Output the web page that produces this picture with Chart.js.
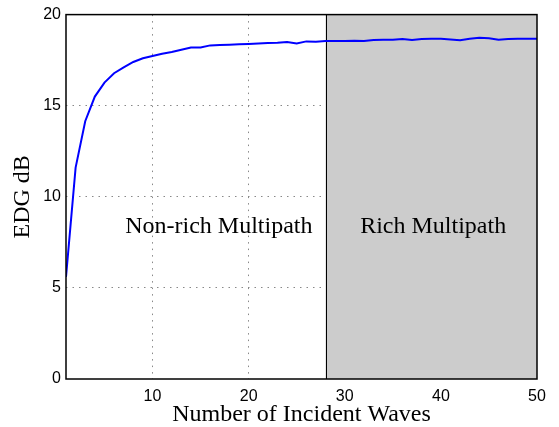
<!DOCTYPE html>
<html>
<head>
<meta charset="utf-8">
<script src="https://cdn.jsdelivr.net/npm/chart.js@4"></script>
<style>
  html, body { margin: 0; padding: 0; background: #fff; }
  #wrap { width: 559px; height: 427px; }
</style>
</head>
<body>
<div id="wrap"><canvas id="myChart"></canvas></div>
<script>
// data
const waves = [1, 2, 3, 4, 5, 6, 7, 8, 9, 10, 11, 12, 13, 14, 15, 16, 17, 18, 19, 20,
    21, 22, 23, 24, 25, 26, 27, 28, 29, 30, 31, 32, 33, 34, 35, 36, 37, 38, 39, 40,
    41, 42, 43, 44, 45, 46, 47, 48, 49, 50];
const edg = [5.6, 11.6, 14.15, 15.5, 16.27, 16.78, 17.1, 17.4, 17.6, 17.73,
    17.85, 17.95, 18.07, 18.19, 18.2, 18.31, 18.33, 18.35, 18.37, 18.39,
    18.42, 18.44, 18.46, 18.5, 18.42, 18.53, 18.51, 18.55, 18.55, 18.55,
    18.57, 18.55, 18.6, 18.62, 18.62, 18.66, 18.6, 18.66, 18.68, 18.68,
    18.64, 18.59, 18.68, 18.73, 18.7, 18.62, 18.66, 18.68, 18.68, 18.68];
const xTicks = [10, 20, 30, 40, 50];
const yTicks = [0, 5, 10, 15, 20];
const richStart = 28;
const regionLabels = [
    { text: 'Non-rich Multipath', x: 16.9, y: 8.0 },
    { text: 'Rich Multipath', x: 39.2, y: 8.0 },
];

const serif = "'Liberation Serif', 'Times New Roman', serif";
const sans = "'Liberation Sans', Arial, sans-serif";

const regionsPlugin = {
    id: 'regions',
    beforeDatasetsDraw(chart) {
        const { ctx, chartArea, scales } = chart;
        const x0 = scales.x.getPixelForValue(richStart);
        ctx.save();
        ctx.fillStyle = '#cccccc';
        ctx.fillRect(x0, chartArea.top, chartArea.right - x0, chartArea.bottom - chartArea.top);
        ctx.strokeStyle = '#000';
        ctx.lineWidth = 1;
        ctx.beginPath();
        ctx.moveTo(Math.round(x0) + 0.5, chartArea.top);
        ctx.lineTo(Math.round(x0) + 0.5, chartArea.bottom);
        ctx.stroke();
        ctx.fillStyle = '#000';
        ctx.font = `24px ${serif}`;
        ctx.textAlign = 'center';
        ctx.textBaseline = 'alphabetic';
        regionLabels.forEach(l => {
            ctx.fillText(l.text, scales.x.getPixelForValue(l.x), scales.y.getPixelForValue(l.y));
        });
        ctx.restore();
    },
    afterDatasetsDraw(chart) {
        const { ctx, chartArea } = chart;
        ctx.save();
        ctx.strokeStyle = '#000';
        ctx.lineWidth = 1.5;
        ctx.strokeRect(chartArea.left, chartArea.top, chartArea.right - chartArea.left, chartArea.bottom - chartArea.top);
        ctx.restore();
    }
};

const gridColor = (edges) => (c) => edges.includes(c.tick.value) ? 'rgba(0,0,0,0)' : '#888';

const chartConfig = {
    type: 'line',
    data: {
        datasets: [{
            data: waves.map((w, i) => ({ x: w, y: edg[i] })),
            borderColor: '#0000ff',
            borderWidth: 2,
            pointRadius: 0,
            fill: false,
            tension: 0,
        }],
    },
    options: {
        responsive: true,
        maintainAspectRatio: false,
        animation: false,
        layout: { padding: { left: 0, top: 11, right: 22, bottom: 0 } },
        plugins: { legend: { display: false }, tooltip: { enabled: false } },
        scales: {
            x: {
                type: 'linear',
                min: 1,
                max: 50,
                afterBuildTicks: (s) => { s.ticks = xTicks.map(v => ({ value: v })); },
                afterFit: (s) => { s.height = 48; },
                ticks: { color: '#000', font: { family: sans, size: 16 }, padding: 8, maxRotation: 0 },
                grid: { color: gridColor([50]), drawTicks: false, lineWidth: 1, tickBorderDash: [1, 5] },
                border: { display: false, dash: [1.5, 5] },
                title: { display: true, text: 'Number of Incident Waves', color: '#000',
                    font: { family: serif, size: 24, lineHeight: 1 }, padding: { top: 0, bottom: 0 } },
            },
            y: {
                min: 0,
                max: 20,
                afterBuildTicks: (s) => { s.ticks = yTicks.map(v => ({ value: v })); },
                afterFit: (s) => { s.width = 66; },
                ticks: { color: '#000', font: { family: sans, size: 16 }, padding: 5 },
                grid: { color: gridColor([0, 20]), drawTicks: false, lineWidth: 1 },
                border: { display: false, dash: [1.5, 5] },
                title: { display: true, text: 'EDG dB', color: '#000',
                    font: { family: serif, size: 24, lineHeight: 1 }, padding: { top: 11, bottom: 0 } },
            },
        },
    },
    plugins: [regionsPlugin],
};

const ctx = document.getElementById('myChart').getContext('2d');
new Chart(ctx, chartConfig);
</script>
</body>
</html>
